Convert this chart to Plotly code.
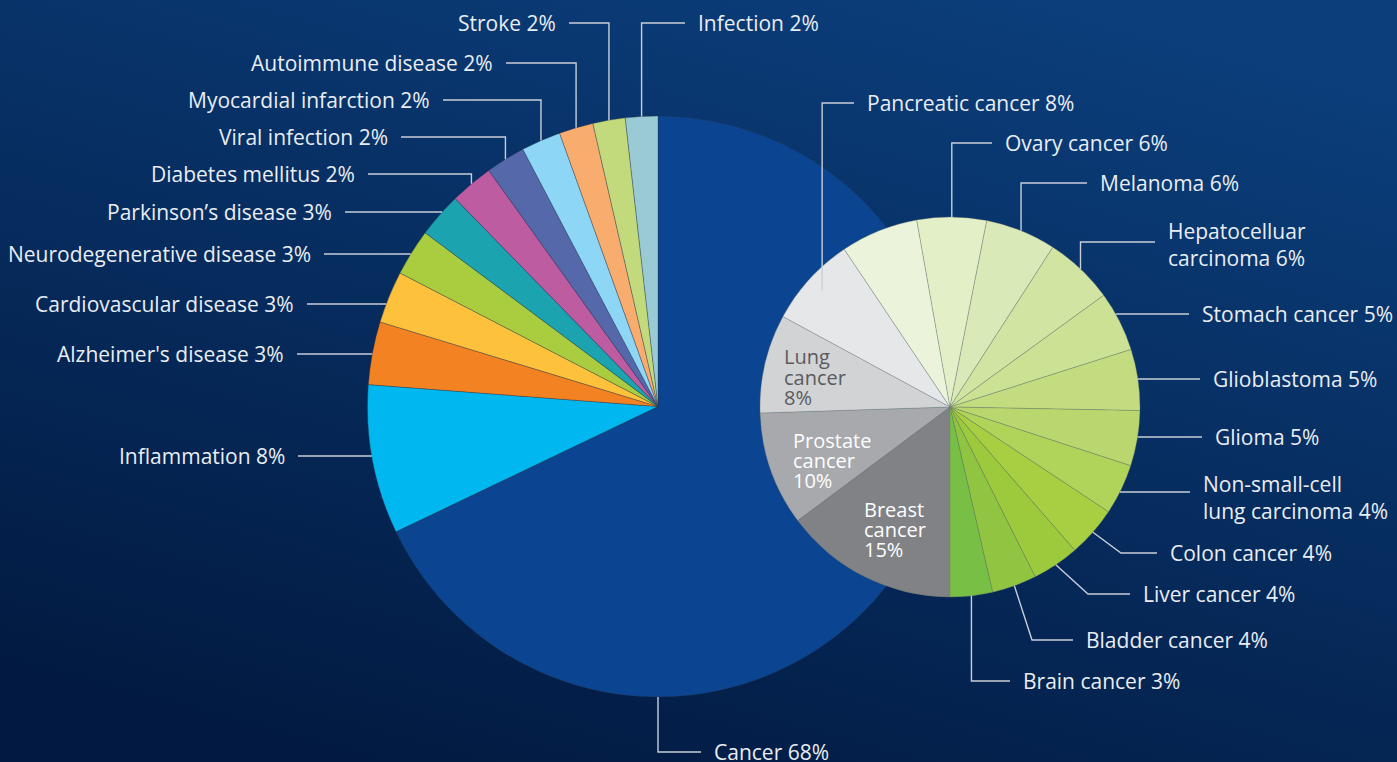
import math
import base64
import plotly.graph_objects as go

W, H = 1397, 762

# ---------------- data ----------------
disease_labels = ["Cancer", "Inflammation", "Alzheimer's disease", "Cardiovascular disease",
                  "Neurodegenerative disease", "Parkinson\u2019s disease", "Diabetes mellitus",
                  "Viral infection", "Myocardial infarction", "Autoimmune disease", "Stroke", "Infection"]
disease_values = [67.9, 8.3, 3.5, 2.9, 2.6, 2.5, 2.4, 2.2, 2.2, 1.9, 1.8, 1.8]
disease_pct_text = [68, 8, 3, 3, 3, 3, 2, 2, 2, 2, 2, 2]

cancer_labels = ["Breast cancer", "Prostate cancer", "Lung cancer", "Pancreatic cancer", "Other cancers",
                 "Ovary cancer", "Melanoma", "Hepatocelluar\ncarcinoma", "Stomach cancer", "Glioblastoma",
                 "Glioma", "Non-small-cell\nlung carcinoma", "Colon cancer", "Liver cancer",
                 "Bladder cancer", "Brain cancer"]
cancer_values = [14.8, 9.7, 8.4, 7.7, 6.6, 5.9, 6.0, 5.9, 5.1, 5.2, 4.7, 4.3, 4.3, 4.0, 3.8, 3.6]
cancer_pct_text = [15, 10, 8, 8, None, 6, 6, 6, 5, 5, 5, 4, 4, 4, 4, 3]

# ---------------- styles ----------------
disease_colors = ["#0b4591", "#00b8ef", "#f28222", "#fec13b", "#a9cd3f", "#1ca3b0", "#bd5ca1",
                  "#5568a9", "#8dd6f6", "#f8ac6e", "#c2da7c", "#9acad4"]
cancer_colors = ["#808285", "#a7a9ac", "#d1d3d4", "#e6e7e8", "#ebf4da", "#e2efc7", "#dae9b8",
                 "#d2e4a2", "#cbe194", "#c3dc80", "#b9d76e", "#b0d35a", "#a8cf42", "#9dca3c",
                 "#91c440", "#77bf45"]

FONT = "'Open Sans', Lato, sans-serif"
FS = 21
FS_IN = 20
TXT = "#e9edf3"
LINE = "#c9ced8"
GAP = 11

# pie geometry (pixels)
BIG_C, BIG_R, BIG_ROT = (658.0, 406.5), 290.5, 0.0
SM_C, SM_R, SM_ROT = (950.0, 407.0), 190.0, 180.0

# label layout (positions in pixels)
big_label_layout = [
    dict(kind="v", ly=752, tx=712, side="R", frac=0.5),   # Cancer: leader from the bottom of the pie
    dict(kind="h", ly=456, tx=287, side="L"),
    dict(kind="h", ly=354, tx=286, side="L"),
    dict(kind="h", ly=304, tx=296, side="L"),
    dict(kind="h", ly=254, tx=313, side="L"),
    dict(kind="h", ly=212, tx=334, side="L"),
    dict(kind="v", ly=174, tx=357, side="L"),
    dict(kind="v", ly=137, tx=390, side="L"),
    dict(kind="v", ly=100, tx=432, side="L"),
    dict(kind="v", ly=63, tx=495, side="L"),
    dict(kind="v", ly=23, tx=558, side="L"),
    dict(kind="v", ly=23, tx=696, side="R"),
]
small_label_layout = [
    dict(kind="in", tx=862, lys=[509, 529, 549], color="#ffffff"),
    dict(kind="in", tx=791, lys=[440, 460, 480], color="#ffffff"),
    dict(kind="in", tx=782, lys=[356, 377, 397], color="#5a5b5e"),
    dict(kind="v", ly=103, tx=865, side="R", rf=0.91),
    None,
    dict(kind="v", ly=143, tx=1003, side="R"),
    dict(kind="v", ly=183, tx=1098, side="R"),
    dict(kind="v", ly=242, tx=1166, side="R", dy=3),
    dict(kind="h", ly=314, tx=1200, side="R"),
    dict(kind="h", ly=379, tx=1211, side="R"),
    dict(kind="h", ly=437, tx=1213, side="R"),
    dict(kind="h", ly=492, tx=1201, side="R", dy=5),
    dict(kind="d", ly=553, ex=1121, tx=1168, side="R"),
    dict(kind="d", ly=594, ex=1088, tx=1141, side="R"),
    dict(kind="d", ly=640, ex=1032, tx=1084, side="R"),
    dict(kind="v", ly=681, tx=1021, side="R"),
]


def px(x, y):
    return x / W, 1 - y / H


def domain(c, r):
    return dict(x=[(c[0] - r) / W, (c[0] + r) / W], y=[1 - (c[1] + r) / H, 1 - (c[1] - r) / H])


def point(c, r, rot, frac):
    a = math.radians(rot + 360.0 * frac)
    return c[0] + r * math.sin(a), c[1] - r * math.cos(a)


def mid_fracs(values):
    tot = float(sum(values))
    out, cum = [], 0.0
    for v in values:
        out.append((cum + v / 2.0) / tot)
        cum += v
    return out


# ---------------- background gradient ----------------
svg = (f'<svg xmlns="http://www.w3.org/2000/svg" width="{W}" height="{H}" viewBox="0 0 {W} {H}" '
       f'preserveAspectRatio="none"><defs><linearGradient id="g" x1="0.75" y1="0" x2="0.25" y2="1">'
       f'<stop offset="0" stop-color="#0b3e7b"/><stop offset="1" stop-color="#021a41"/>'
       f'</linearGradient></defs><rect x="0" y="0" width="{W}" height="{H}" fill="url(#g)"/></svg>')
bg_uri = "data:image/svg+xml;base64," + base64.b64encode(svg.encode()).decode()

fig = go.Figure()
fig.add_trace(go.Pie(
    labels=disease_labels, values=disease_values, sort=False, direction="clockwise", rotation=BIG_ROT,
    marker=dict(colors=disease_colors, line=dict(color="rgba(40,50,70,0.55)", width=0.6)),
    textinfo="none", hoverinfo="label+percent", domain=domain(BIG_C, BIG_R), showlegend=False,
))
fig.add_trace(go.Pie(
    labels=[l.replace("\n", " ") for l in cancer_labels], values=cancer_values, sort=False,
    direction="clockwise", rotation=SM_ROT,
    marker=dict(colors=cancer_colors, line=dict(color="rgba(110,120,110,0.55)", width=0.6)),
    textinfo="none", hoverinfo="label+percent", domain=domain(SM_C, SM_R), showlegend=False,
))

shapes, annotations = [], []


def add_label(text, spec, anchor, center, radius):
    kind = spec["kind"]
    side = spec.get("side", "R")
    tx = spec["tx"]
    lx = tx - GAP if side == "R" else tx + GAP
    ax, ay = anchor
    if kind == "h":
        # horizontal leader at the label height, ending on the rim of the pie
        ly = spec.get("ly", ay)
        dyc = ly - center[1]
        dxc = math.sqrt(max(radius ** 2 - dyc ** 2, 0.0))
        ex = center[0] + dxc if side == "R" else center[0] - dxc
        pts = [(ex, ly), (lx, ly)]
    elif kind == "v":
        ly = spec["ly"]
        pts = [(ax, ay), (ax, ly), (lx, ly)]
    else:  # diagonal then horizontal
        ly = spec["ly"]
        pts = [(ax, ay), (spec["ex"], ly), (lx, ly)]
    path = "M " + " L ".join("{:.5f},{:.5f}".format(*px(x, y)) for x, y in pts)
    shapes.append(dict(type="path", path=path, xref="paper", yref="paper",
                       line=dict(color=LINE, width=1.4), layer="above"))
    x, y = px(tx, ly + spec.get("dy", 0))
    annotations.append(dict(text=text, x=x, y=y, xref="paper", yref="paper", showarrow=False,
                            xanchor="left" if side == "R" else "right", yanchor="middle",
                            align="left" if side == "R" else "right",
                            font=dict(family=FONT, size=FS, color=TXT)))


# big pie labels
for lab, pct, spec, mf in zip(disease_labels, disease_pct_text, big_label_layout, mid_fracs(disease_values)):
    frac = spec.get("frac", mf)
    anchor = point(BIG_C, BIG_R * spec.get("rf", 1.0), BIG_ROT, frac)
    add_label(f"{lab} {pct}%", spec, anchor, BIG_C, BIG_R)

# small pie labels
for lab, pct, spec, mf in zip(cancer_labels, cancer_pct_text, small_label_layout, mid_fracs(cancer_values)):
    if spec is None or pct is None:
        continue
    if spec["kind"] == "in":
        words = lab.split(" ")
        lines = [words[0], " ".join(words[1:]), f"{pct}%"]
        for t, yy in zip(lines, spec["lys"]):
            x, y = px(spec["tx"], yy)
            annotations.append(dict(text=t, x=x, y=y, xref="paper", yref="paper", showarrow=False,
                                    xanchor="left", yanchor="middle",
                                    font=dict(family=FONT, size=FS_IN, color=spec["color"])))
        continue
    anchor = point(SM_C, SM_R * spec.get("rf", 1.0), SM_ROT, mf)
    add_label(lab.replace("\n", "<br>") + f" {pct}%", spec, anchor, SM_C, SM_R)

fig.update_layout(
    width=W, height=H, margin=dict(l=0, r=0, t=0, b=0, pad=0), autosize=False,
    paper_bgcolor="#06295a", plot_bgcolor="rgba(0,0,0,0)",
    images=[dict(source=bg_uri, xref="paper", yref="paper", x=0, y=1, sizex=1, sizey=1,
                 xanchor="left", yanchor="top", sizing="stretch", layer="below")],
    shapes=shapes, annotations=annotations, showlegend=False,
    font=dict(family=FONT, size=FS, color=TXT),
)

fig.write_html("out.html")
